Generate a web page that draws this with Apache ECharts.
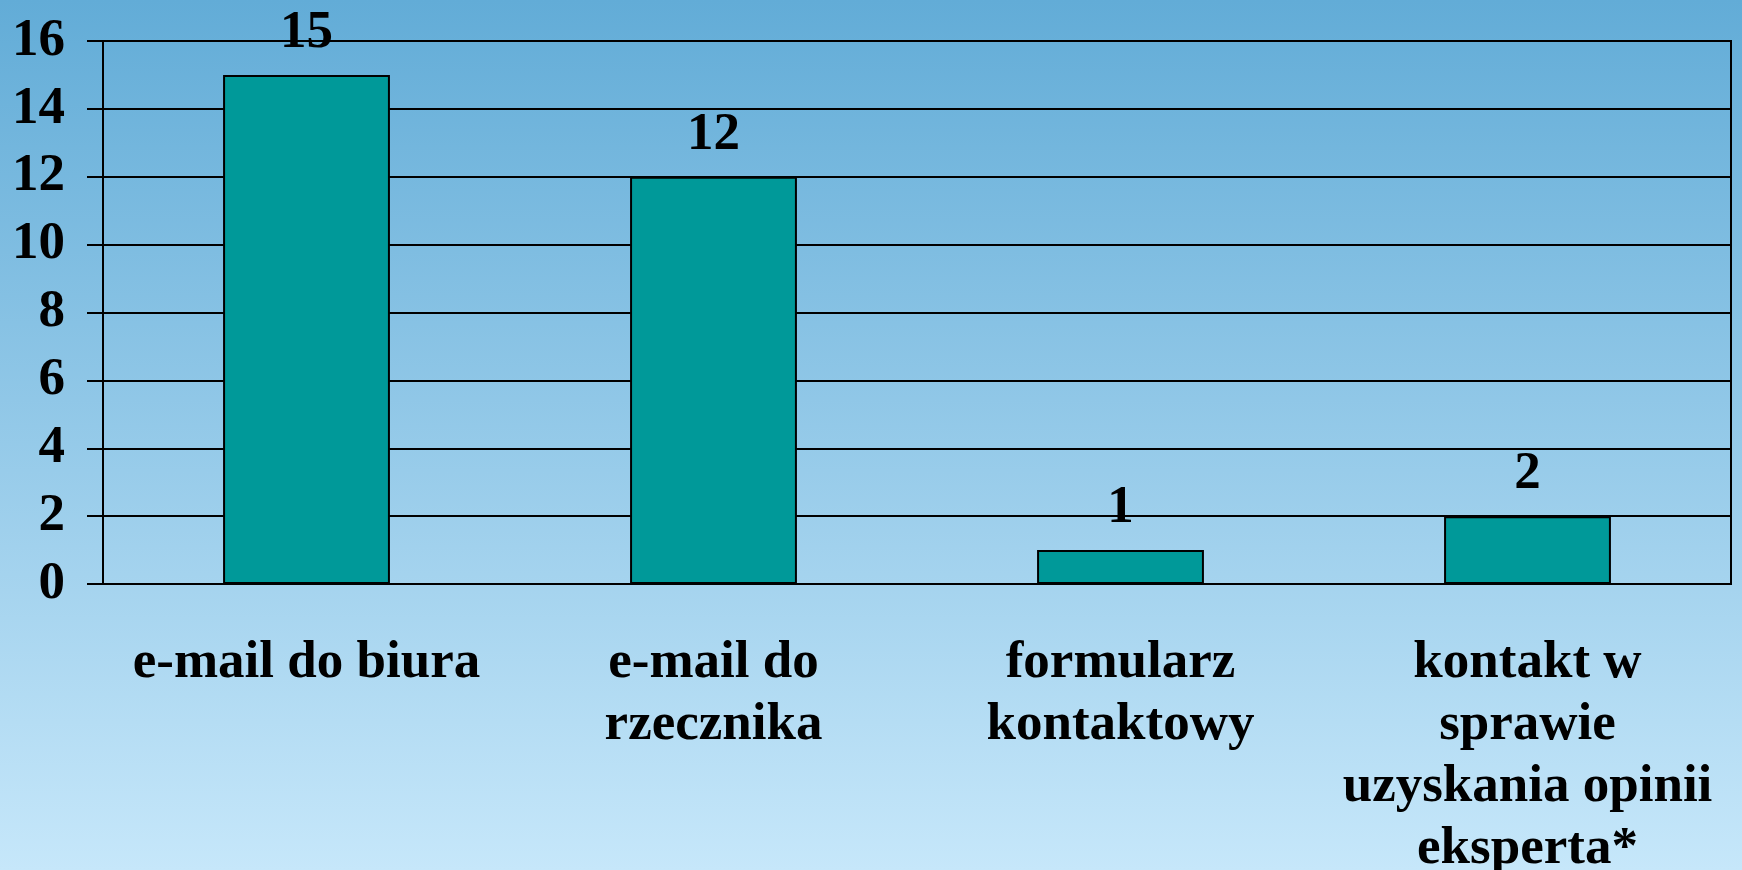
<!DOCTYPE html>
<html>
<head>
<meta charset="utf-8">
<script src="https://cdn.jsdelivr.net/npm/echarts@6/dist/echarts.min.js"></script>
<style>
    html, body { margin: 0; padding: 0; }
    #chart { width: 1742px; height: 870px; }
</style>
</head>
<body>
<div id="chart"></div>
<script>
// data
var categories = ["e-mail do biura", "e-mail do\nrzecznika", "formularz\nkontaktowy", "kontakt w\nsprawie\nuzyskania opinii\neksperta*"];
var values = [15, 12, 1, 2];
var yTicks = { min: 0, max: 16, step: 2 };

var font = "'Liberation Serif', 'Times New Roman', serif";

var myChart = echarts.init(document.getElementById("chart"));
var option = {
    backgroundColor: {
        type: "linear",
        x: 0, y: 0, x2: 0, y2: 1,
        colorStops: [
            { offset: 0, color: "#62acd7" },
            { offset: 1, color: "#c6e7fa" }
        ]
    },
    grid: {
        left: 103,
        right: 11,
        top: 41,
        bottom: 286,
        outerBoundsMode: "none",
        show: true,
        borderColor: "#000",
        borderWidth: 2
    },
    xAxis: {
        type: "category",
        data: categories,
        boundaryGap: true,
        axisLine: { lineStyle: { color: "#000", width: 2 } },
        axisTick: { length: 16, lineStyle: { color: "#000", width: 2 } },
        axisLabel: {
            interval: 0,
            margin: 48,
            color: "#000",
            fontFamily: font,
            fontWeight: "bold",
            fontSize: 53,
            lineHeight: 62
        }
    },
    yAxis: {
        type: "value",
        min: yTicks.min,
        max: yTicks.max,
        interval: yTicks.step,
        axisLine: { show: true, lineStyle: { color: "#000", width: 2 } },
        axisTick: { show: true, length: 16, lineStyle: { color: "#000", width: 2 } },
        splitLine: { lineStyle: { color: "#000", width: 2 } },
        axisLabel: {
            margin: 38,
            color: "#000",
            fontFamily: font,
            fontWeight: "bold",
            fontSize: 53
        }
    },
    series: [{
        type: "bar",
        data: values,
        barWidth: "41%",
        itemStyle: { color: "#009999", borderColor: "#000", borderWidth: 2 },
        label: {
            show: true,
            position: "top",
            distance: 15,
            color: "#000",
            fontFamily: font,
            fontWeight: "bold",
            fontSize: 53
        }
    }]
};
myChart.setOption(option);
</script>
</body>
</html>
